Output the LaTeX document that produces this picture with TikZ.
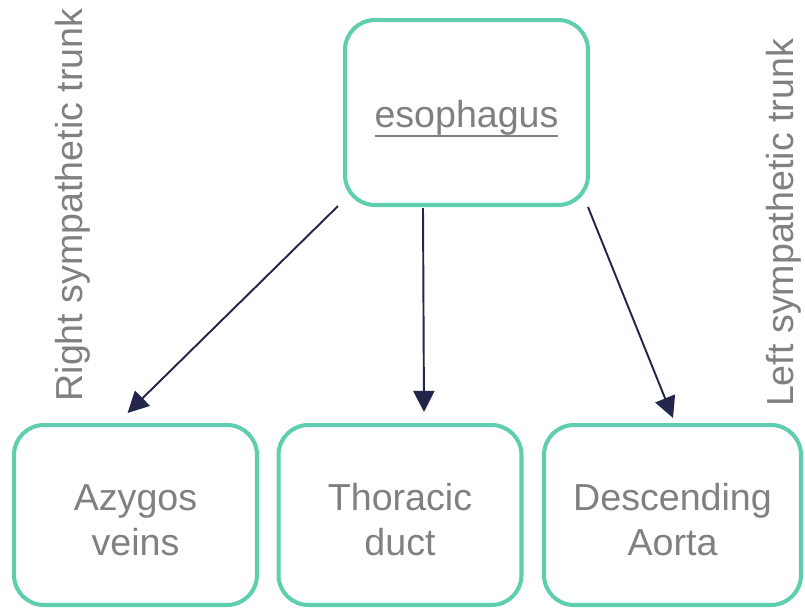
\documentclass[tikz,border=0pt]{standalone}
\usepackage{fontspec}
\setmainfont{Liberation Sans}
\usepackage{tikz}
\usetikzlibrary{arrows.meta}
\definecolor{boxgreen}{HTML}{5ECEAF}
\definecolor{arrownavy}{HTML}{21264A}
\definecolor{labelgrey}{HTML}{808080}
\newcommand{\linkword}[1]{\raisebox{-3.4pt}[\height][\depth]{\vtop{\hbox{#1}\kern0.2pt\hrule height 1.1pt}}}

\begin{document}
\begin{tikzpicture}[x=0.02cm,y=-0.02cm]
	\tikzstyle{organ}=[draw=boxgreen,line width=2.3pt,rounded corners=17pt,minimum width=4.86cm,minimum height=3.7cm,align=center,text=labelgrey,font=\fontsize{21.4}{25.6}\selectfont,inner sep=0pt]
	\tikzstyle{organpair}=[organ,minimum height=3.6cm,text height=45.8pt,text depth=0pt]
	\tikzstyle{trunk}=[rotate=90,text=labelgrey,font=\fontsize{21.4}{25.6}\selectfont,inner sep=0pt]
	\useasboundingbox (0,0) rectangle (805,609);
	\node[organ](esophagus) at (466.5,112.5) {\linkword{esophagus}};
	\node[organpair](azygos) at (135.5,515) {Azygos\\veins};
	\node[organpair](thoracic) at (400,515) {Thoracic\\duct};
	\node[organpair,minimum width=5.14cm](descending) at (672.5,515) {Descending\\Aorta};
	\node[trunk](righttrunk) at (73,205) {Right sympathetic trunk};
	\node[trunk](lefttrunk) at (784,223) {Left sympathetic trunk};
	\path[-{Triangle[length=12pt,width=12pt]},color=arrownavy,line width=1.1pt]
		([shift={(-5,-1)}]esophagus.south west) edge ([shift={(-8,-10)}]azygos.north)
		([shift={(-43.5,1)}]esophagus.south) edge ([shift={(24,-11)}]thoracic.north)
		([shift={(-2,0)}]esophagus.south east) edge ([shift={(0.5,-5)}]descending.north);
\end{tikzpicture}
\end{document}
